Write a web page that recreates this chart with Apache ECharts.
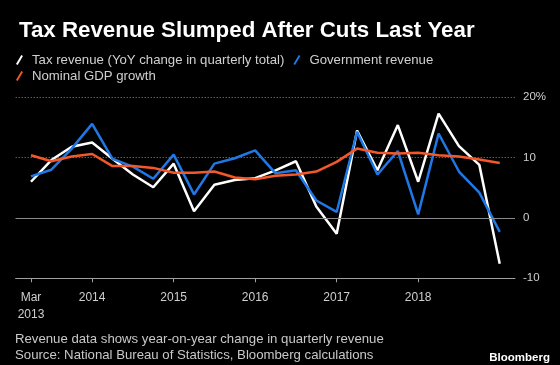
<!DOCTYPE html>
<html>
<head>
<meta charset="utf-8">
<script src="https://cdn.jsdelivr.net/npm/echarts@6/dist/echarts.min.js"></script>
<style>
html,body{margin:0;padding:0;background:#000;}
#chart{width:560px;height:365px;}
</style>
</head>
<body>
<div id="chart"></div>
<script>
// Quarter ends, Mar 2013 .. Dec 2018
var quarters = ['2013-03','2013-06','2013-09','2013-12','2014-03','2014-06','2014-09','2014-12',
  '2015-03','2015-06','2015-09','2015-12','2016-03','2016-06','2016-09','2016-12',
  '2017-03','2017-06','2017-09','2017-12','2018-03','2018-06','2018-09','2018-12'];

var taxRevenue = [6.0, 9.6, 11.8, 12.5, 9.8, 7.2, 5.1, 9.0, 1.1, 5.5, 6.3, 6.6,
  7.9, 9.4, 1.9, -2.6, 14.5, 7.9, 15.4, 6.0, 17.3, 11.9, 8.8, -7.6];
var govRevenue = [6.9, 8.0, 11.5, 15.6, 9.8, 8.5, 6.5, 10.5, 3.9, 9.0, 9.9, 11.2,
  7.4, 7.9, 2.9, 1.0, 14.3, 7.2, 11.1, 0.6, 14.0, 7.7, 4.2, -2.3];
var gdpGrowth = [10.4, 9.4, 10.2, 10.6, 8.6, 8.6, 8.3, 7.5, 7.5, 7.7, 6.7, 6.4,
  7.0, 7.2, 7.7, 9.3, 11.5, 10.8, 10.7, 10.8, 10.4, 10.2, 9.7, 9.1];

// x-axis tick positions (quarter keys) and their labels
var tickQuarters = ['2013-03','2013-12','2014-12','2015-12','2016-12','2017-12'];
var tickLabels = ['Mar\n2013','2014','2015','2016','2017','2018'];

var seriesNames = ['Tax revenue (YoY change in quarterly total)', 'Government revenue', 'Nominal GDP growth'];
var seriesColors = ['#ffffff', '#1f78e6', '#f2582a'];

function pairs(arr){ return arr.map(function(v,i){ return [i, v]; }); }
var tickIdx = tickQuarters.map(function(q){ return quarters.indexOf(q); });

var slash = 'path://M0,11 L6.5,0 L8.5,1.2 L2,12.2 Z';
var fontFam = 'Liberation Sans, Arial, sans-serif';

var chart = echarts.init(document.getElementById('chart'), null, {renderer:'canvas'});
chart.setOption({
  backgroundColor: '#000',
  animation: false,
  title: {
    text: 'Tax Revenue Slumped After Cuts Last Year',
    left: 14, top: 15,
    textStyle: {color:'#fff', fontSize:22.3, fontWeight:'bold', fontFamily: fontFam}
  },
  legend: [{
    data: [seriesNames[0], seriesNames[1]],
    left: 11, top: 48.5,
    itemWidth: 7, itemHeight: 10, itemGap: 9,
    icon: slash,
    textStyle: {color:'#d0d0d0', fontSize:13.2, fontFamily: fontFam, padding:[0,0,0,4]}
  },{
    data: [seriesNames[2]],
    left: 11, top: 64.5,
    itemWidth: 7, itemHeight: 10,
    icon: slash,
    textStyle: {color:'#d0d0d0', fontSize:13.2, fontFamily: fontFam, padding:[0,0,0,4]}
  }],
  grid: {left: 15.7, right: 45, top: 97.3, bottom: 86.7},
  xAxis: {
    type: 'value',
    min: -0.75, max: 23.75,
    axisLine: {show:true, onZero:false, lineStyle:{color:'#a0a0a0', width:1}},
    axisTick: {show:true, customValues: tickIdx, length:4, lineStyle:{color:'#a0a0a0'}},
    axisLabel: {
      customValues: tickIdx,
      color:'#cfcfcf', fontSize:12, fontFamily: fontFam, margin:11, lineHeight:17,
      formatter: function(v){ var k = tickIdx.indexOf(Math.round(v)); return k >= 0 ? tickLabels[k] : ''; }
    },
    splitLine: {show:false}
  },
  yAxis: {
    type: 'value',
    position: 'right',
    min: -10, max: 20, interval: 10,
    axisLine: {show:false},
    axisTick: {show:false},
    axisLabel: {
      color:'#cfcfcf', fontSize:11.5, fontFamily: fontFam, margin:8,
      formatter: function(v){ return v === 20 ? '20%' : String(v); }
    },
    splitLine: {show:true, lineStyle:{color:'#8a8a8a', type:[1,2], width:1}}
  },
  series: [{
    name: seriesNames[0], type:'line', data: pairs(taxRevenue),
    showSymbol:false, symbol:'none', color: seriesColors[0],
    lineStyle:{width:2.5, color: seriesColors[0]},
    markLine: {
      silent:true, symbol:'none', label:{show:false},
      lineStyle:{color:'#8a8a8a', type:'solid', width:1},
      data: [{yAxis: 0}]
    },
    z: 3
  },{
    name: seriesNames[1], type:'line', data: pairs(govRevenue),
    showSymbol:false, symbol:'none', color: seriesColors[1],
    lineStyle:{width:2.5, color: seriesColors[1]}, z: 3
  },{
    name: seriesNames[2], type:'line', data: pairs(gdpGrowth),
    showSymbol:false, symbol:'none', color: seriesColors[2],
    lineStyle:{width:2.5, color: seriesColors[2]}, z: 3
  }],
  graphic: [{
    type:'text', left: 15, top: 332.5,
    style:{text:'Revenue data shows year-on-year change in quarterly revenue', fill:'#c8c8c8', font:'13.2px ' + fontFam}
  },{
    type:'text', left: 15, top: 348.5,
    style:{text:'Source: National Bureau of Statistics, Bloomberg calculations', fill:'#c8c8c8', font:'13.2px ' + fontFam}
  },{
    type:'text', right: 10, top: 351.5,
    style:{text:'Bloomberg', fill:'#ffffff', font:'bold 11.5px ' + fontFam}
  }]
});
</script>
</body>
</html>
